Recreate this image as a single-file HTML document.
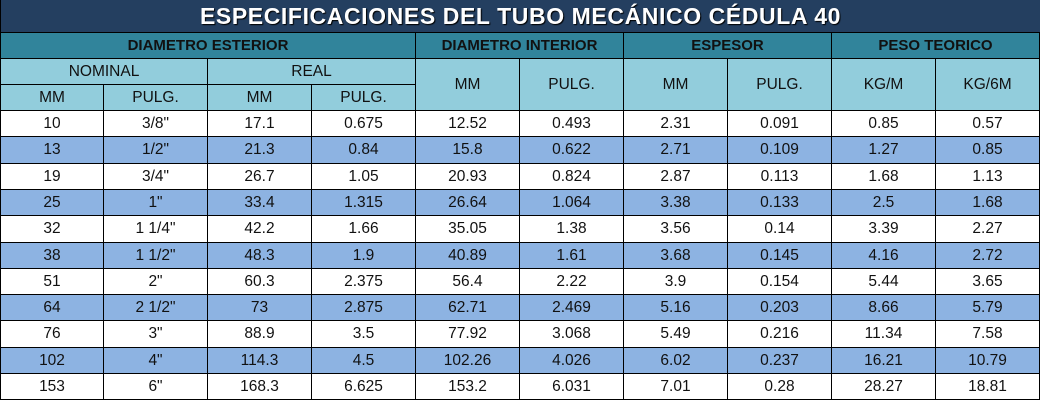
<!DOCTYPE html><html><head><style>
body{margin:0;width:1040px;height:400px;overflow:hidden;background:#fff;font-family:"Liberation Sans",sans-serif}
.c{position:absolute;box-sizing:border-box;display:flex;align-items:center;justify-content:center;font-size:15.5px;color:#111;border-right:1px solid #000;border-bottom:1px solid #000}
.t{position:absolute;left:0;top:0;width:1040px;height:33px;background:#243f60;color:#fff;font-weight:bold;font-size:23px;letter-spacing:0.6px;display:flex;align-items:center;justify-content:center;text-shadow:1px 1px 1px #000;border-bottom:1px solid #000;box-sizing:border-box;border-left:1px solid #000}
</style></head><body>
<div class="t">ESPECIFICACIONES DEL TUBO MECÁNICO CÉDULA 40</div>
<div id="h"></div>
<script>
var H=document.getElementById('h'),s='';
function c(x,y,w,h,bg,t,b){s+='<div class="c" style="left:'+x+'px;top:'+y+'px;width:'+w+'px;height:'+h+'px;background:'+bg+';'+(b?'font-weight:bold;font-size:15px;':'')+(x==0?'border-left:1px solid #000;':'')+'">'+t+'</div>';}
var T='#31849b',L='#92cddc';
c(0,33,416,26,T,'DIAMETRO ESTERIOR',1);c(416,33,208,26,T,'DIAMETRO INTERIOR',1);c(624,33,208,26,T,'ESPESOR',1);c(832,33,208,26,T,'PESO TEORICO',1);
c(0,59,208,26,L,'NOMINAL');c(208,59,208,26,L,'REAL');
var hs=['MM','PULG.','MM','PULG.'];for(var i=0;i<4;i++)c(i*104,85,104,26,L,hs[i]);
var h2=['MM','PULG.','MM','PULG.','KG/M','KG/6M'];for(var i=0;i<6;i++)c(416+i*104,59,104,52,L,h2[i]);
var d=[["10",'3/8"',"17.1","0.675","12.52","0.493","2.31","0.091","0.85","0.57"],["13",'1/2"',"21.3","0.84","15.8","0.622","2.71","0.109","1.27","0.85"],["19",'3/4"',"26.7","1.05","20.93","0.824","2.87","0.113","1.68","1.13"],["25",'1"',"33.4","1.315","26.64","1.064","3.38","0.133","2.5","1.68"],["32",'1 1/4"',"42.2","1.66","35.05","1.38","3.56","0.14","3.39","2.27"],["38",'1 1/2"',"48.3","1.9","40.89","1.61","3.68","0.145","4.16","2.72"],["51",'2"',"60.3","2.375","56.4","2.22","3.9","0.154","5.44","3.65"],["64",'2 1/2"',"73","2.875","62.71","2.469","5.16","0.203","8.66","5.79"],["76",'3"',"88.9","3.5","77.92","3.068","5.49","0.216","11.34","7.58"],["102",'4"',"114.3","4.5","102.26","4.026","6.02","0.237","16.21","10.79"],["153",'6"',"168.3","6.625","153.2","6.031","7.01","0.28","28.27","18.81"]];
for(var r=0;r<11;r++){var y=Math.round(111+r*26.3),y2=Math.round(111+(r+1)*26.3);for(var i=0;i<10;i++)c(i*104,y,104,y2-y,r%2?'#8db3e2':'#fff',d[r][i]);}
H.innerHTML=s;
</script></body></html>
